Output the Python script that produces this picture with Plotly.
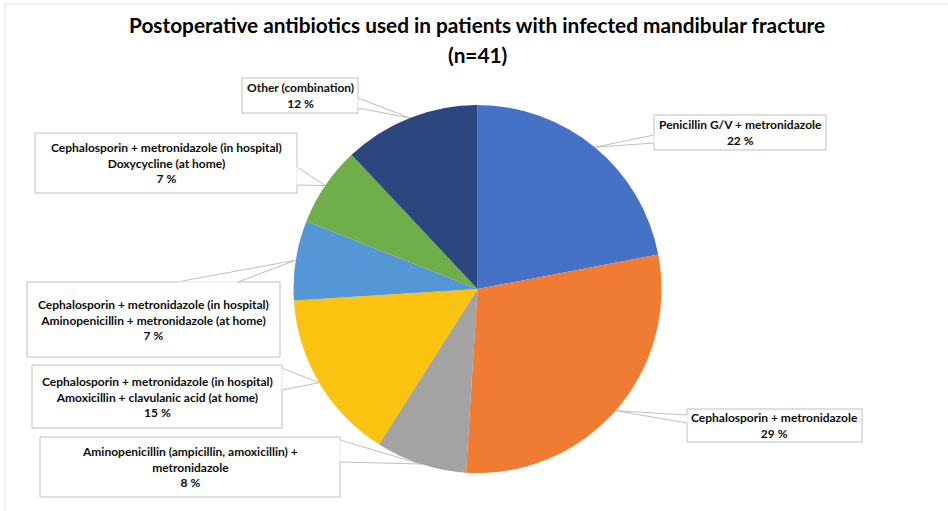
import math
import plotly.graph_objects as go

# Share of patients per postoperative antibiotic regimen (n=41), in percent
regimens = [
    "Penicillin G/V + metronidazole",
    "Cephalosporin + metronidazole",
    "Aminopenicillin (ampicillin, amoxicillin) +<br>metronidazole",
    "Cephalosporin + metronidazole (in hospital)<br>Amoxicillin + clavulanic acid (at home)",
    "Cephalosporin + metronidazole (in hospital)<br>Aminopenicillin + metronidazole (at home)",
    "Cephalosporin + metronidazole (in hospital)<br>Doxycycline (at home)",
    "Other (combination)",
]
shares = [22, 29, 8, 15, 7, 7, 12]
slice_colors = ["#4571c6", "#f07c33", "#a3a3a3", "#fcc210", "#5597d6", "#6fae48", "#2c4680"]

W, H = 948, 511
CX, CY, R = 477.5, 289.0, 184.0

# Callout boxes (x0, y0, x1, y1) and where their pointer leaves the box edge
boxes = [
    (654, 115, 826, 150),
    (687, 409, 862, 442),
    (40, 437, 340, 497),
    (32, 365, 282, 428),
    (27, 282, 280, 357),
    (35, 133, 297, 193),
    (242, 78, 358, 113),
]
pointer_bases = [
    ((654, 135), (654, 143)),
    ((687, 415), (687, 423)),
    ((340, 440), (340, 462)),
    ((282, 368), (282, 390)),
    ((177, 282), (238, 282)),
    ((297, 167), (297, 185)),
    ((358, 98), (358, 108)),
]


def px(x):
    return x / W


def py(y):
    return 1 - y / H


fig = go.Figure(
    go.Pie(
        values=shares,
        labels=[f"s{i}" for i in range(len(shares))],
        marker=dict(colors=slice_colors, line=dict(width=0)),
        sort=False,
        direction="clockwise",
        rotation=0,
        textinfo="none",
        hoverinfo="skip",
        showlegend=False,
        domain=dict(x=[px(CX - R), px(CX + R)], y=[py(CY + R), py(CY - R)]),
    )
)

shapes = []
annotations = []
total = sum(shares)
cum = 0.0
BORDER = "#bfbfbf"
for i, v in enumerate(shares):
    mid = (cum + v / 2) / total
    cum += v
    ang = 2 * math.pi * mid
    tx = CX + R * math.sin(ang)
    ty = CY - R * math.cos(ang)
    x0, y0, x1, y1 = boxes[i]
    (bx1, by1), (bx2, by2) = pointer_bases[i]
    shapes.append(dict(type="rect", xref="paper", yref="paper",
                       x0=px(x0), x1=px(x1), y0=py(y1), y1=py(y0),
                       line=dict(color=BORDER, width=1), fillcolor="white", layer="above"))
    shapes.append(dict(type="path", xref="paper", yref="paper",
                       path=f"M {px(bx1)} {py(by1)} L {px(tx)} {py(ty)} L {px(bx2)} {py(by2)}",
                       line=dict(color=BORDER, width=1), layer="above"))
    # open the box edge where the pointer joins it
    shapes.append(dict(type="line", xref="paper", yref="paper",
                       x0=px(bx1), y0=py(by1), x1=px(bx2), y1=py(by2),
                       line=dict(color="white", width=1.2), layer="above"))
    annotations.append(dict(
        x=px((x0 + x1) / 2), y=py((y0 + y1) / 2), xref="paper", yref="paper",
        xanchor="center", yanchor="middle", showarrow=False, align="center",
        text=f"<b>{regimens[i]}<br>{v} %</b>",
        font=dict(family="Lato, 'Open Sans', sans-serif", size=12, color="#0d0d0d"),
    ))

# chart frame
shapes.append(dict(type="line", xref="paper", yref="paper", x0=px(5), x1=1.0, y0=py(4), y1=py(4),
                   line=dict(color="#e3e3e3", width=1)))
shapes.append(dict(type="line", xref="paper", yref="paper", x0=px(5), x1=px(5), y0=0, y1=py(4),
                   line=dict(color="#e3e3e3", width=1)))

title_font = dict(family="Lato, 'Open Sans', sans-serif", size=20.8, color="#000000")
annotations.append(dict(x=px(477), y=py(25), xref="paper", yref="paper", showarrow=False,
                        xanchor="center", yanchor="middle",
                        text="<b>Postoperative antibiotics used in patients with infected mandibular fracture</b>",
                        font=title_font))
annotations.append(dict(x=px(477), y=py(54), xref="paper", yref="paper", showarrow=False,
                        xanchor="center", yanchor="middle", text="<b>(n=41)</b>", font=title_font))

fig.update_layout(
    width=W, height=H,
    margin=dict(l=0, r=0, t=0, b=0),
    paper_bgcolor="white", plot_bgcolor="white",
    shapes=shapes, annotations=annotations,
)

fig.write_html("out.html", config={"displayModeBar": False})
